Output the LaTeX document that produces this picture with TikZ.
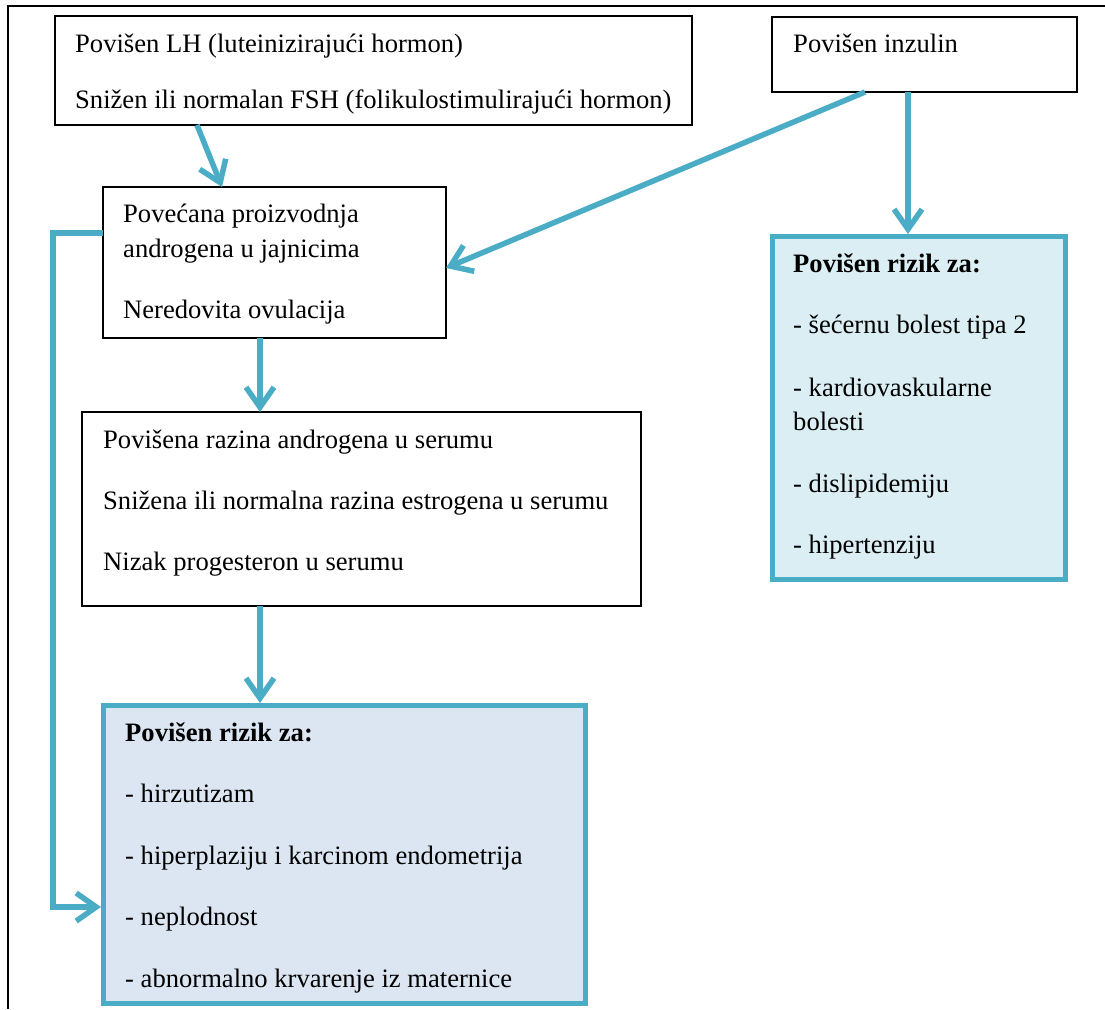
\documentclass[tikz,border=0pt]{standalone}
\usepackage{fontspec}
\setmainfont{Liberation Serif}
\usetikzlibrary{arrows.meta}
\definecolor{teal}{HTML}{4BACC6}
\definecolor{fillD}{HTML}{DAEEF3}
\definecolor{fillF}{HTML}{DCE6F2}
\begin{document}
\begin{tikzpicture}[x=1pt,y=-1pt,
  plainbox/.style={draw=black,line width=1.2pt,fill=white,inner sep=0pt,outer sep=0pt,anchor=north west},
  riskbox/.style={draw=teal,line width=5pt,inner sep=0pt,outer sep=0pt,anchor=north west},
  txt/.style={anchor=base west,inner sep=0pt,font=\fontsize{26.6}{34}\selectfont},
  btxt/.style={txt,font=\fontsize{26.6}{34}\selectfont\bfseries},
  arr/.style={draw=teal,line width=5.5pt,line join=miter,-{Straight Barb[length=20pt,width=28pt,line width=5.5pt]}}
]
\useasboundingbox (0,0) rectangle (1105,1009);
% frame
\draw[line width=1.5pt] (1105,6) -- (8,6) -- (8,1009);

% boxes
\node[plainbox,minimum width=637pt,minimum height=109pt] (A) at (55,16) {};
\node[plainbox,minimum width=305pt,minimum height=75pt] (B) at (772,17) {};
\node[plainbox,minimum width=343pt,minimum height=151pt] (C) at (103,187) {};
\node[plainbox,minimum width=559pt,minimum height=194pt] (E) at (82,412) {};
\node[riskbox,fill=fillD,minimum width=293pt,minimum height=343pt] (D) at (772,236) {};
\node[riskbox,fill=fillF,minimum width=482pt,minimum height=298pt] (F) at (103,705) {};

% texts
\node[txt] (a1) at (75,52) {Povišen LH (luteinizirajući hormon)};
\node[txt] (a2) at (75,108) {Snižen ili normalan FSH (folikulostimulirajući hormon)};
\node[txt] (b1) at (793,52) {Povišen inzulin};
\node[txt] (c1) at (123,222) {Povećana proizvodnja};
\node[txt] (c2) at (123,257) {androgena u jajnicima};
\node[txt] (c3) at (123,318) {Neredovita ovulacija};
\node[txt] (e1) at (103,448) {Povišena razina androgena u serumu};
\node[txt] (e2) at (103,509) {Snižena ili normalna razina estrogena u serumu};
\node[txt] (e3) at (103,570) {Nizak progesteron u serumu};
\node[btxt] (d0) at (793,272) {Povišen rizik za:};
\node[txt] (d1) at (793,333) {- šećernu bolest tipa 2};
\node[txt] (d2) at (793,396) {- kardiovaskularne};
\node[txt] (d3) at (793,430) {bolesti};
\node[txt] (d4) at (793,492) {- dislipidemiju};
\node[txt] (d5) at (793,553) {- hipertenziju};
\node[btxt] (f0) at (125,741) {Povišen rizik za:};
\node[txt] (f1) at (125,802) {- hirzutizam};
\node[txt] (f2) at (125,864) {- hiperplaziju i karcinom endometrija};
\node[txt] (f3) at (125,925) {- neplodnost};
\node[txt] (f4) at (125,987) {- abnormalno krvarenje iz maternice};

% connectors
\draw[arr] ([xshift=142pt]A.south west) -- ([xshift=119pt]C.north west);
\draw[arr] ([xshift=93pt]B.south west) -- ([yshift=-81pt]C.north east);
\draw[arr] ([xshift=136pt]B.south west) -- ([xshift=136pt,yshift=2pt]D.north west);
\draw[arr] ([xshift=157pt]C.south west) -- ([xshift=178pt]E.north west);
\draw[arr] ([xshift=178pt]E.south west) -- ([xshift=157pt,yshift=2pt]F.north west);
\draw[arr] ([yshift=-46pt]C.north west) -- ++(-50,0) |- ([xshift=-2pt,yshift=-202pt]F.north west);
\end{tikzpicture}
\end{document}
